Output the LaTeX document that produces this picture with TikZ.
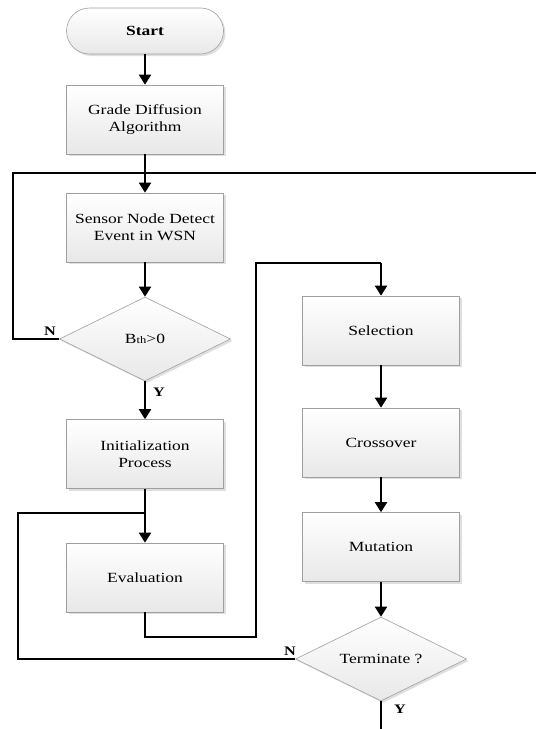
\documentclass[tikz,border=0pt]{standalone}
\usepackage{fontspec}
\setmainfont{Liberation Serif}[FakeStretch=1.25]
\usetikzlibrary{shapes.geometric,arrows.meta,shadows}
\begin{document}
\begin{tikzpicture}[x=1pt,y=-1pt,
  box/.style={draw=gray!75,line width=0.6pt,top color=white,bottom color=gray!18,
    minimum width=157pt,minimum height=69pt,inner sep=0pt,align=center,
    font=\fontsize{14}{17}\selectfont,
    drop shadow={shadow xshift=2pt,shadow yshift=-2pt,opacity=0.25}},
  dec/.style={diamond,draw=gray!75,line width=0.6pt,top color=white,bottom color=gray!18,
    aspect=2.04,minimum width=171pt,minimum height=84pt,inner sep=0pt,
    font=\fontsize{14}{17}\selectfont,
    drop shadow={shadow xshift=2pt,shadow yshift=-2pt,opacity=0.25}},
  term/.style={box,rounded corners=23pt,minimum height=46pt},
  arr/.style={line width=1.9pt,-{Triangle[width=12pt,length=10pt]}},
  ln/.style={line width=1.4pt},
  lab/.style={font=\fontsize{13}{13}\selectfont\bfseries,inner sep=0pt}
]
\useasboundingbox (0,0) rectangle (536,729);
\node[term] (start) at (145,31) {\textbf{Start}};
\node[box] (grade) at (145,119.5) {Grade Diffusion\\Algorithm};
\node[box] (sensor) at (145,227.5) {Sensor Node Detect\\Event in WSN};
\node[dec] (bth) at (145,339) {B{\fontsize{10}{10}\selectfont th}>0};
\node[box] (init) at (145,454) {Initialization\\Process};
\node[box] (eval) at (145,577.5) {Evaluation};
\node[box] (sel) at (381,330.5) {Selection};
\node[box] (cross) at (381,442.5) {Crossover};
\node[box] (mut) at (381,547) {Mutation};
\node[dec] (termq) at (381,659) {Terminate ?};

\coordinate (j2) at (145,513);
\coordinate (redge) at (536,173);
\coordinate (bedge) at (381,729);
\coordinate (l1a) at (13,339);
\coordinate (l1b) at (13,173);
\coordinate (l2a) at (18,659);
\coordinate (l2b) at (18,513);
\coordinate (e1) at (145,637);
\coordinate (e2) at (256,637);
\coordinate (e3) at (256,263);
\coordinate (e4) at (381,263);

\draw[arr] (start) -- (grade);
\draw[arr] (grade) -- (sensor);
\draw[arr] (sensor) -- (bth);
\draw[arr] (bth) -- (init);
\draw[arr] (init) -- (eval);
\draw[arr] (sel) -- (cross);
\draw[arr] (cross) -- (mut);
\draw[arr] (mut) -- (termq);

\draw[ln] (bth.west) -- (l1a) -- (l1b) -- (redge);
\draw[ln] (termq.west) -- (l2a) -- (l2b) -- (j2);
\draw[ln] (eval.south) -- (e1) -- (e2) -- (e3) -- (e4);
\draw[arr] (e4) -- (sel.north);
\draw[line width=1.9pt] (termq.south) -- (bedge);

\node[lab] (n1) at (50,331) {N};
\node[lab] (y1) at (159,392) {Y};
\node[lab] (n2) at (290,651) {N};
\node[lab] (y2) at (400,709) {Y};
\end{tikzpicture}
\end{document}
